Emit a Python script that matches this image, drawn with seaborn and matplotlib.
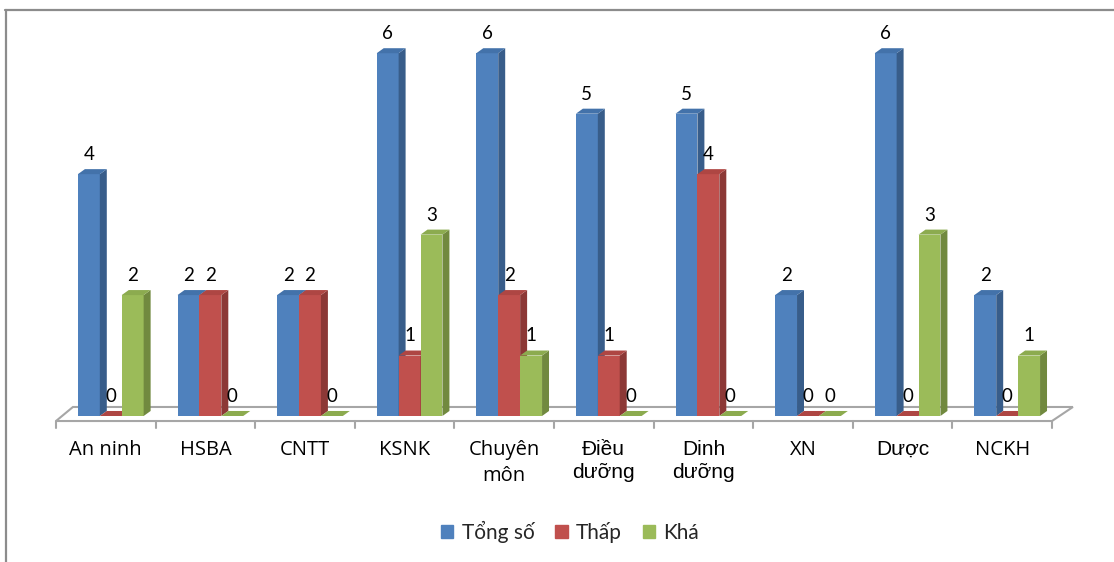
import pandas as pd
import matplotlib
matplotlib.use("Agg")
import matplotlib.pyplot as plt
import matplotlib.patches as mpatches
from matplotlib.lines import Line2D
import seaborn as sns

categories = ["An ninh", "HSBA", "CNTT", "KSNK", "Chuyên\nmôn",
              "Điều\ndưỡng", "Dinh\ndưỡng", "XN", "Dược", "NCKH"]
series_names = ["Tổng số", "Thấp", "Khá"]
tong_so = [4, 2, 2, 6, 6, 5, 5, 2, 6, 2]
thap = [0, 2, 2, 1, 2, 1, 4, 0, 0, 0]
kha = [2, 0, 0, 3, 1, 0, 0, 0, 3, 1]

colors = ["#4F81BD", "#C0504D", "#9BBB59"]
side_colors = ["#385D8A", "#8C3836", "#71893F"]
top_colors = ["#4372AA", "#AE4643", "#8CAB4F"]
arial_labels = ["Điều\ndưỡng", "Dinh\ndưỡng", "Dược"]

df = pd.DataFrame({"nhom": categories, series_names[0]: tong_so,
                   series_names[1]: thap, series_names[2]: kha})
df = df.melt(id_vars="nhom", var_name="muc", value_name="so_luong")

sns.set_style("white")
plt.rcParams["font.family"] = ["Lato", "DejaVu Sans"]

fig = plt.figure(figsize=(11.14, 5.62), dpi=100)
ax = fig.add_axes([56 / 1114, 146 / 562, 996 / 1114, 393 / 562])

sns.barplot(data=df, x="nhom", y="so_luong", hue="muc", hue_order=series_names,
            palette=colors, width=0.66, saturation=1, legend=False, ax=ax)

ax.set_xlim(-0.5, 9.5)
ax.set_ylim(0, 6.5)

# fake 3D: side and top faces for every bar
dx, dy = 0.07, 0.083
bars = []
for ci, cont in enumerate(ax.containers):
    for p in cont.patches:
        p.set_x(p.get_x() + 0.05)
        p.set_edgecolor("none")
        bars.append((p.get_x(), ci, p))
bars.sort(key=lambda b: b[0])
for rank, (x0, ci, p) in enumerate(bars):
    z = 3 + 3 * rank
    p.set_zorder(z)
    x1 = x0 + p.get_width()
    h = p.get_height()
    side = mpatches.Polygon([(x1, 0), (x1 + dx, dy), (x1 + dx, h + dy), (x1, h)],
                            closed=True, facecolor=side_colors[ci], edgecolor="none",
                            zorder=z + 1, clip_on=False)
    top = mpatches.Polygon([(x0, h), (x1, h), (x1 + dx, h + dy), (x0 + dx, h + dy)],
                           closed=True, facecolor=top_colors[ci], edgecolor="none",
                           zorder=z + 2, clip_on=False)
    ax.add_patch(side)
    ax.add_patch(top)

# floor
floor = mpatches.Polygon([(-0.5, -0.083), (9.5, -0.083), (9.71, 0.149), (-0.33, 0.149)],
                         closed=True, facecolor="white", edgecolor="#A6A6A6",
                         linewidth=1.5, zorder=1, clip_on=False)
ax.add_patch(floor)
for b in range(len(categories) + 1):
    ax.plot([b - 0.5, b - 0.5], [-0.083, -0.2], color="#A6A6A6", lw=1.5,
            clip_on=False, zorder=1)

for cont in ax.containers:
    ax.bar_label(cont, labels=[str(int(v)) for v in cont.datavalues],
                 padding=8, fontsize=13.5, color="black", zorder=200)

# category labels
ax.set_xticks(range(len(categories)))
ax.set_xticklabels([])
ax.tick_params(axis="x", length=0)
for i, name in enumerate(categories):
    if name in arial_labels:
        fam, size, ls = ["Liberation Sans", "DejaVu Sans"], 15, 1.3
    else:
        fam, size, ls = ["Open Sans", "DejaVu Sans"], 14.5, 1.4
    ax.annotate(name, xy=(i, 0), xycoords=("data", "axes fraction"),
                xytext=(0, -17), textcoords="offset points", ha="center", va="top",
                fontsize=size, family=fam, linespacing=ls, color="black")

ax.set_xlabel("")
ax.set_ylabel("")
ax.set_yticks([])
for s in ax.spines.values():
    s.set_visible(False)
ax.grid(False)

handles = [mpatches.Patch(color=c, label=n) for c, n in zip(colors, series_names)]
fig.legend(handles=handles, loc="center", bbox_to_anchor=(570 / 1114, 1 - 532 / 562),
           ncol=3, frameon=False, fontsize=15, handlelength=0.6, handleheight=0.6,
           handletextpad=0.4, columnspacing=1.0)

fig.add_artist(Line2D([5.5 / 1114, 5.5 / 1114], [0, 1 - 10 / 562],
                      transform=fig.transFigure, color="#8C8C8C", lw=1.6))
fig.add_artist(Line2D([5 / 1114, 1], [1 - 10 / 562, 1 - 10 / 562],
                      transform=fig.transFigure, color="#8C8C8C", lw=1.6))

fig.savefig("out.png", dpi=100)
